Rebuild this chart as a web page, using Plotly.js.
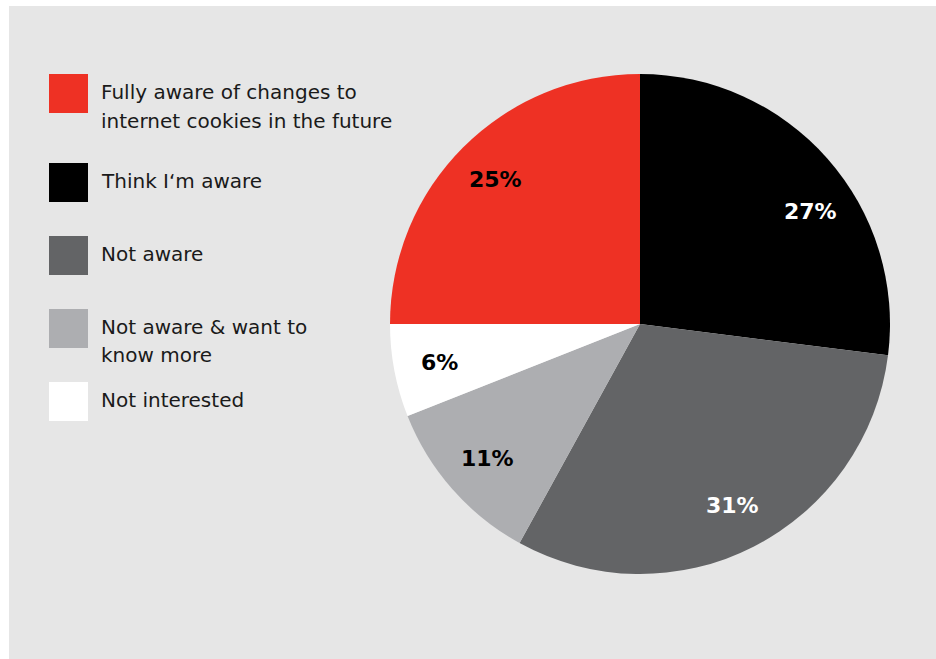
<!DOCTYPE html>
<html>
<head>
<meta charset="utf-8">
<script src="https://cdn.plot.ly/plotly-3.0.1.min.js"></script>
<style>html,body{margin:0;padding:0;background:#fff;}#chart{width:936px;height:659px;}</style>
</head>
<body>
<div id="chart"></div>
<script>
// Data (legend order)
var categories = ["Fully aware of changes to internet cookies in the future", "Think I'm aware", "Not aware", "Not aware & want to know more", "Not interested"];
var legendLines = [["Fully aware of changes to", "internet cookies in the future"], ["Think I\u2018m aware"], ["Not aware"], ["Not aware & want to", "know more"], ["Not interested"]];
var values = [25, 27, 31, 11, 6];
var pctLabels = ["25%", "27%", "31%", "11%", "6%"];

// Styles
var colors = ["#ee3124", "#000000", "#636466", "#adaeb1", "#ffffff"];
var labelColors = ["#000000", "#ffffff", "#ffffff", "#000000", "#000000"];

var W = 936, H = 659;
var cx = 640, cy = 324, R = 250;
function px(x){return x / W;}
function py(y){return 1 - y / H;}

var startDeg = -90;
var trace = {
  type: "pie",
  labels: categories,
  values: values,
  sort: false,
  direction: "clockwise",
  rotation: startDeg,
  marker: {colors: colors, line: {width: 0}},
  textinfo: "none",
  hoverinfo: "label+percent",
  showlegend: false,
  domain: {x: [px(cx - R), px(cx + R)], y: [py(cy + R), py(cy - R)]}
};

var shapes = [{
  type: "rect", xref: "paper", yref: "paper",
  x0: px(9), x1: px(936), y0: py(659), y1: py(6),
  fillcolor: "#e6e6e6", line: {width: 0}, layer: "below"
}];
var annotations = [];

// Legend (manual, large square swatches)
var swatchTops = [74, 163, 236, 309, 382];
var lineCenters = [[91.6, 120.5], [180.2], [253], [326.5, 355], [399.7]];
for (var i = 0; i < categories.length; i++) {
  shapes.push({
    type: "rect", xref: "paper", yref: "paper",
    x0: px(49), x1: px(88), y0: py(swatchTops[i] + 39), y1: py(swatchTops[i]),
    fillcolor: colors[i], line: {width: 0}
  });
  for (var j = 0; j < legendLines[i].length; j++) {
    annotations.push({
      xref: "paper", yref: "paper", x: px(99), y: py(lineCenters[i][j] + 0.5),
      xanchor: "left", yanchor: "middle", showarrow: false,
      text: legendLines[i][j],
      font: {family: "DejaVu Sans", size: 20, color: "#1a1a1a"}
    });
  }
}

// Percentage labels, placed along each slice's mid angle
var total = values.reduce(function(a, b){return a + b;}, 0);
var acc = 0;
for (var k = 0; k < values.length; k++) {
  var midDeg = startDeg + (acc + values[k] / 2) / total * 360;
  acc += values[k];
  if (k === 1) midDeg += 8; // designer nudge for the black slice label
  var mid = midDeg * Math.PI / 180;
  var rr = 0.815 * R;
  annotations.push({
    xref: "paper", yref: "paper",
    x: px(cx + rr * Math.sin(mid)), y: py(cy - rr * Math.cos(mid)),
    xanchor: "center", yanchor: "middle", showarrow: false,
    text: "<b>" + pctLabels[k] + "</b>",
    font: {family: "DejaVu Sans", size: 22, color: labelColors[k]}
  });
}

var layout = {
  width: W, height: H,
  margin: {l: 0, r: 0, t: 0, b: 0},
  paper_bgcolor: "#ffffff",
  plot_bgcolor: "#ffffff",
  showlegend: false,
  shapes: shapes,
  annotations: annotations
};

Plotly.newPlot("chart", [trace], layout, {displayModeBar: false, staticPlot: true});
</script>
</body>
</html>
